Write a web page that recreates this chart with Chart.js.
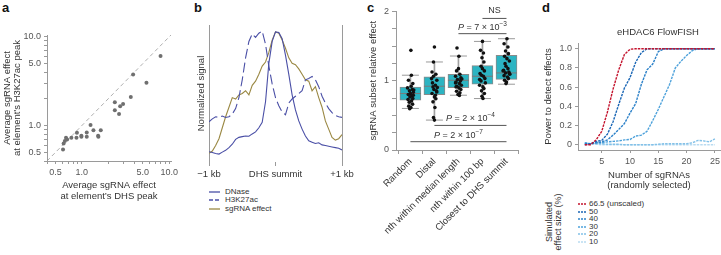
<!DOCTYPE html>
<html><head><meta charset="utf-8">
<script src="https://cdn.jsdelivr.net/npm/chart.js@4.4.1/dist/chart.umd.min.js"></script>
<style>
html,body{margin:0;padding:0;background:#fff;}
#fig{position:relative;width:721px;height:255px;overflow:hidden;font-family:'Liberation Sans',Arial,sans-serif;color:#333;}
canvas{position:absolute;}
.t{position:absolute;white-space:nowrap;line-height:1;}
.lab{position:absolute;font-weight:bold;font-size:13px;color:#111;line-height:1;}
.leg{position:absolute;font-size:8px;line-height:1;white-space:nowrap;color:#333;}
svg{position:absolute;overflow:visible;}
</style></head><body><div id="fig">
<div class="lab" style="left:2px;top:1px">a</div>
<div class="lab" style="left:194px;top:1px">b</div>
<div class="lab" style="left:367px;top:1px">c</div>
<div class="lab" style="left:542px;top:1px">d</div>
</div>
<script>
// ---------- DATA ----------
// panel a
const dhsPeakEffect   = [7.97,3.87,5.5,3.64,2.39,2.97,2.75,2.39,2.67,1.26,1.65,1.36,1.14,0.88,1.14,1.54,1.55,0.99,0.99,0.87,0.76,0.66,0.68,0.64,0.62,0.61];
const h3k27acPeakEffect = [6.1,3.77,3.04,2.1,1.83,1.75,1.65,1.49,1.35,1.02,0.89,0.886,0.84,0.83,0.75,0.77,0.75,0.77,0.75,0.73,0.73,0.73,0.70,0.67,0.63,0.54];
const aAxisRange = [0.4, 10.5];
const aTicks = [0.4,0.5,0.6,0.7,0.8,0.9,1,2,3,4,5,6,7,8,9,10];
const aTickLabels = {0.5:'0.5',1:'1.0',5:'5.0',10:'10.0'};
// panel b
const bPositions = [-1000,-950,-900,-850,-800,-750,-700,-650,-600,-550,-500,-450,-400,-350,-300,-250,-200,-150,-100,-50,0,50,100,150,200,250,300,350,400,450,500,550,600,650,700,750,800,850,900,950,1000];
const dnase   = [0.075,0.07,0.062,0.058,0.072,0.085,0.105,0.13,0.165,0.18,0.185,0.19,0.188,0.205,0.22,0.25,0.29,0.44,0.72,0.88,0.95,0.945,0.9,0.78,0.64,0.49,0.38,0.3,0.24,0.19,0.155,0.145,0.135,0.14,0.125,0.12,0.115,0.11,0.105,0.1,0.088];
const h3k27ac = [0.294,0.315,0.33,0.325,0.335,0.325,0.33,0.35,0.39,0.47,0.6,0.76,0.88,0.935,0.91,0.94,0.955,0.86,0.7,0.57,0.47,0.41,0.365,0.345,0.43,0.46,0.48,0.5,0.52,0.6,0.61,0.625,0.6,0.55,0.48,0.43,0.39,0.36,0.34,0.33,0.326];
const sgEffect = [0.063,0.08,0.12,0.17,0.25,0.33,0.4,0.47,0.46,0.49,0.5,0.52,0.49,0.56,0.59,0.64,0.7,0.73,0.8,0.89,0.95,0.94,0.89,0.83,0.76,0.72,0.71,0.68,0.64,0.6,0.59,0.52,0.55,0.47,0.4,0.3,0.24,0.18,0.16,0.17,0.2];
const bTicks = [-1000,0,1000];
const bTickLabels = ['\u22121 kb','DHS summit','+1 kb'];
const bSeriesNames = ['DNase','H3K27ac','sgRNA effect'];
// panel c
const cCategories = ['Random','Distal','nth within median length','nth within 100 bp','Closest to DHS summit'];
const cQ1 = [0.72,0.80,0.90,0.95,1.02];
const cQ3 = [0.91,1.055,1.094,1.218,1.367];
const cMedian = [0.815,0.921,1.007,1.065,1.113];
const cWhiskerLow = [0.60,0.432,0.791,0.743,0.95];
const cWhiskerHigh = [1.08,1.271,1.357,1.568,1.607];
const cDots = [
  [1.439,1.079,1.007,0.959,0.921,0.897,0.873,0.854,0.835,0.815,0.801,0.782,0.767,0.743,0.729,0.710,0.691,0.662,0.633,0.614,0.595,0.865,0.79],
  [1.487,1.271,1.127,1.094,1.065,1.007,0.969,0.935,0.902,0.873,0.854,0.815,0.767,0.739,0.695,0.614,0.47,0.432,1.031,0.911,0.839,0.791],
  [1.472,1.353,1.175,1.142,1.094,1.065,1.041,1.017,0.998,0.983,0.959,0.935,0.921,0.897,0.873,0.849,0.825,0.801,0.787,1.026,0.969,0.911],
  [1.568,1.439,1.40,1.333,1.271,1.209,1.175,1.142,1.103,1.065,1.031,0.998,0.969,0.935,0.911,0.887,0.854,0.815,0.777,0.743,1.079,1.017],
  [1.607,1.535,1.487,1.429,1.391,1.353,1.319,1.285,1.247,1.209,1.175,1.151,1.127,1.113,1.094,1.074,1.055,1.031,1.007,0.983,0.959,1.142,1.103]
];
const cJitter = [
  [0.02,0.04,-0.08,0.1,0.03,-0.12,0.08,-0.04,0.12,0.0,-0.09,0.06,-0.02,0.1,-0.1,0.05,-0.05,0.09,-0.07,0.02,-0.03,0.14,0.12],
  [0.0,-0.04,-0.1,0.06,-0.04,0.1,-0.08,0.04,0.12,-0.02,0.08,-0.1,0.0,0.06,-0.06,0.02,-0.04,0.0,-0.12,-0.06,0.1,0.04],
  [-0.06,0.02,0.0,-0.08,0.06,-0.12,0.1,-0.04,0.08,-0.1,0.04,0.12,-0.06,0.02,0.1,-0.08,0.06,-0.02,0.04,0.14,-0.12,-0.1],
  [0.0,-0.08,0.04,-0.02,0.06,-0.06,0.0,0.08,-0.1,0.04,0.1,-0.06,0.12,-0.12,0.02,0.06,-0.04,0.08,-0.02,0.02,-0.04,-0.12],
  [0.02,-0.1,0.06,-0.04,0.08,-0.08,0.02,0.12,-0.06,-0.02,0.06,-0.12,0.1,-0.04,0.14,-0.1,0.04,0.08,-0.08,0.0,-0.02,-0.14,0.12]
];
const cComparisons = [
  {from:3, to:4, y:1.90, label:'NS'},
  {from:2, to:4, y:1.68, label:'<i>P</i> = 7 \u00d7 10<sup>\u22123</sup>'},
  {from:1, to:4, y:0.355, label:'<i>P</i> = 2 \u00d7 10<sup>\u22124</sup>'},
  {from:0, to:4, y:0.12, label:'<i>P</i> = 2 \u00d7 10<sup>\u22127</sup>'}
];
// panel d
const dNumSgRNAs = [2,3,4,5,6,7,8,9,10,11,12,13,14,15,16,17,18,19,20,21,22,23,24,25];
const dEffectSizes = ['66.5 (unscaled)','50','40','30','20','10'];
const dPower = [
  [0,0,0.05,0.14,0.34,0.58,0.78,0.94,0.995,1,1,1,1,1,1,1,1,1,1,1,1,1,1,1],
  [0,0.01,0.035,0.045,0.11,0.24,0.42,0.59,0.7,0.86,0.96,1,1,1,1,1,1,1,1,1,1,1,1,1],
  [0.01,0.01,0.02,0.03,0.05,0.1,0.16,0.22,0.33,0.43,0.63,0.78,0.84,0.97,1,1,1,1,1,1,1,1,1,1],
  [0.02,0.01,0.02,0.02,0.03,0.035,0.04,0.05,0.055,0.09,0.1,0.14,0.25,0.37,0.5,0.63,0.8,0.87,0.93,0.98,1,1,1,1],
  [0.02,0.01,0.01,0.01,0.005,0.005,0.005,0,0,0,0,0,0,0.005,0.01,0.01,0.01,0.01,0.01,0.02,0.045,0.04,0.03,0.06],
  [0.01,0.01,0.005,0,0,0,0,0,0,0,0,0,0,0,0,0,0,0,0,0,0,0,0,0]
];
const dXTicks = [5,10,15,20,25];
const dYTicks = [0,0.2,0.4,0.6,0.8,1.0];

// ---------- STYLE ----------
Chart.defaults.font.family = "'Liberation Sans', Arial, sans-serif";
Chart.defaults.font.size = 9;
Chart.defaults.color = '#555';
const AX = '#9a9a9a';
const fig = document.getElementById('fig');

function addCanvas(box){
  const c = document.createElement('canvas');
  c.width = box.w; c.height = box.h;
  Object.assign(c.style,{left:box.x+'px',top:box.y+'px',width:box.w+'px',height:box.h+'px'});
  fig.appendChild(c); return c;
}
function baseOpts(box, area){
  return {
    responsive:false, animation:false, devicePixelRatio:1,
    layout:{padding:{left:0,top:area.top-box.y,right:box.x+box.w-area.right,bottom:0}},
    plugins:{legend:{display:false},tooltip:{enabled:false}}
  };
}
const fitX = (box,area)=> s => { s.height = box.y+box.h-area.bottom; s.paddingLeft=0; s.paddingRight=0; };
const fitY = (box,area)=> s => { s.width = area.left-box.x; s.paddingTop=0; s.paddingBottom=0; };
function text(html, x, y, css){
  const d = document.createElement('div'); d.className='t'; d.innerHTML = html;
  d.style.left = x+'px'; d.style.top = y+'px';
  Object.assign(d.style, css||{});
  fig.appendChild(d); return d;
}

// ---------- PANEL A ----------
(function(){
  const box = {x:0,y:20,w:180,h:182}, area = {left:47,top:35,right:171,bottom:161};
  const o = baseOpts(box, area);
  const logAxis = (pos, titleLines, pad) => ({
    type:'logarithmic', position:pos, min:aAxisRange[0], max:aAxisRange[1],
    afterBuildTicks: s => { s.ticks = aTicks.map(v=>({value:v})); },
    afterFit: pos==='bottom' ? fitX(box,area) : fitY(box,area),
    ticks:{autoSkip:false, maxRotation:0, padding:3, color:'#555', font:{size:9},
      callback: v => aTickLabels[v] || ''},
    grid:{drawOnChartArea:false, drawTicks:true, tickLength:3, color:AX},
    border:{color:AX},
    title:{display:true, text:titleLines, color:'#333', font:{size:9.5, lineHeight:pos==='bottom'?'11px':'10px'}, padding:pad}
  });
  o.scales = {
    x: logAxis('bottom', ['Average sgRNA effect','at element\u2019s DHS peak'], {top:0,bottom:0}),
    y: logAxis('left', ['Average sgRNA effect','at element\u2019s H3K27ac peak'], {top:2,bottom:0})
  };
  new Chart(addCanvas(box), {
    type:'scatter',
    data:{datasets:[
      {data: dhsPeakEffect.map((v,i)=>({x:v,y:h3k27acPeakEffect[i]})), pointRadius:2, pointBackgroundColor:'#6f6f6f', pointBorderWidth:0, order:0},
      {type:'line', data: aAxisRange.map(v=>({x:v,y:v})), borderColor:'#9a9a9a', borderWidth:0.8, borderDash:[4,3], pointRadius:0, order:1}
    ]},
    options:o
  });
})();

// ---------- PANEL B ----------
(function(){
  const box = {x:180,y:0,w:175,h:185}, area = {left:209,top:25,right:342,bottom:162};
  const o = baseOpts(box, area);
  o.scales = {
    x:{type:'linear', min:-1000, max:1000,
      afterBuildTicks: s => { s.ticks = bTicks.map(v=>({value:v})); },
      afterFit: fitX(box,area),
      ticks:{autoSkip:false, maxRotation:0, padding:3, color:'#333', font:{size:9.5},
        callback: v => bTickLabels[bTicks.indexOf(v)]},
      grid:{drawOnChartArea:true, drawTicks:true, tickLength:4,
        color: c => (c.tick && c.tick.value !== 0) ? AX : 'rgba(0,0,0,0)', tickColor:AX},
      border:{display:false}},
    y:{type:'linear', min:0, max:1, afterFit: fitY(box,area),
      ticks:{display:false}, grid:{display:false}, border:{display:false},
      title:{display:true, text:'Normalized signal', color:'#333', font:{size:9.5, lineHeight:'11px'}, padding:{top:15.5,bottom:0}}}
  };
  const mkSeries = (vals, color, dash) => ({data: bPositions.map((p,i)=>({x:p,y:vals[i]})), borderColor:color, borderWidth:1.1, borderDash:dash, pointRadius:0, tension:0});
  new Chart(addCanvas(box), {
    type:'line',
    data:{datasets:[
      mkSeries(h3k27ac,'#4a4fa6',[10,4]),
      mkSeries(dnase,'#4a4fa6',[]),
      mkSeries(sgEffect,'#9a8843',[])
    ]},
    options:o
  });
  // legend
  const styles = [{c:'#4a4fa6',d:''},{c:'#4a4fa6',d:'4 2'},{c:'#9a8843',d:''}];
  const ys = [192,200.3,208.6];
  bSeriesNames.forEach((n,i)=>{
    const s = document.createElementNS('http://www.w3.org/2000/svg','svg');
    s.setAttribute('width','12'); s.setAttribute('height','4');
    s.style.left='209px'; s.style.top=(ys[i]-2)+'px';
    s.innerHTML = `<line x1="0" y1="2" x2="11" y2="2" stroke="${styles[i].c}" stroke-width="1.3" stroke-dasharray="${styles[i].d}"/>`;
    fig.appendChild(s);
    const d = document.createElement('div'); d.className='leg'; d.textContent=n;
    d.style.left='225px'; d.style.top=(ys[i]-4)+'px'; fig.appendChild(d);
  });
})();

// ---------- PANEL C ----------
(function(){
  const box = {x:360,y:0,w:170,h:255}, area = {left:396,top:11,right:528,bottom:150};
  const o = baseOpts(box, area);
  o.scales = {
    x:{type:'linear', min:-0.6, max:4.5, offset:false,
      afterBuildTicks: s => { s.ticks = cCategories.map((c,i)=>({value:i})); },
      afterFit: fitX(box,area),
      ticks:{autoSkip:false, minRotation:45, maxRotation:45, padding:2, color:'#333', font:{size:9.5},
        callback: v => cCategories[v]},
      grid:{drawOnChartArea:false, drawTicks:true, tickLength:4, color:AX},
      border:{color:AX}},
    y:{type:'linear', min:0, max:2,
      afterBuildTicks: s => { const t=[]; for(let v=0; v<=2.0001; v+=0.25) t.push({value:+v.toFixed(2)}); s.ticks=t; },
      afterFit: fitY(box,area),
      ticks:{autoSkip:false, padding:3, color:'#555', font:{size:9}, callback: v => Number.isInteger(v) ? String(v) : ''},
      grid:{drawOnChartArea:false, drawTicks:true, tickLength:4, color:AX},
      border:{color:AX},
      title:{display:true, text:'sgRNA subset relative effect', color:'#333', font:{size:9.5, lineHeight:'11px'}, padding:{top:7.5,bottom:0}}}
  };
  const idx = cCategories.map((c,i)=>i);
  const datasets = [];
  datasets.push({type:'scatter', data: cDots.flatMap((arr,i)=>arr.map((v,j)=>({x:i+cJitter[i][j], y:v}))),
    pointRadius:1.8, pointBackgroundColor:'#111', pointBorderWidth:0, order:0});
  datasets.push({type:'scatter', data: idx.map(i=>({x:i,y:cMedian[i]})), pointStyle:'line', pointRadius:10.5, pointBorderColor:'#7a7a7a', pointBorderWidth:1, order:1});
  datasets.push({type:'scatter', data: idx.flatMap(i=>[{x:i,y:cWhiskerLow[i]},{x:i,y:cWhiskerHigh[i]}]), pointStyle:'line', pointRadius:8.5, pointBorderColor:'#9a9a9a', pointBorderWidth:1, order:2});
  datasets.push({type:'bar', grouped:false, data: idx.map(i=>({x:i,y:[cQ1[i],cQ3[i]]})), barThickness:21, backgroundColor:'#2cb4c2', borderColor:'#8a8a8a', borderWidth:1, borderSkipped:false, order:3});
  datasets.push({type:'bar', grouped:false, data: idx.map(i=>({x:i,y:[cWhiskerLow[i],cWhiskerHigh[i]]})), barThickness:1, backgroundColor:'#a0a0a0', borderWidth:0, order:4});
  cComparisons.forEach(cp => datasets.push({type:'line', data:[{x:cp.from,y:cp.y},{x:cp.to,y:cp.y}], borderColor:'#555', borderWidth:1, pointRadius:0, order:5}));
  const ch = new Chart(addCanvas(box), {type:'scatter', data:{datasets}, options:o});
  cComparisons.forEach(cp => {
    const xm = (ch.scales.x.getPixelForValue(cp.from) + ch.scales.x.getPixelForValue(cp.to))/2 + box.x;
    const yp = ch.scales.y.getPixelForValue(cp.y) + box.y;
    const d = text(cp.label, xm, yp - 8, {fontSize:'9px', transform:'translate(-50%,-50%)', color:'#333'});
    d.querySelectorAll('sup').forEach(s=>{s.style.fontSize='6.5px'; s.style.verticalAlign='4px';});
  });
})();

// ---------- PANEL D ----------
(function(){
  const box = {x:540,y:20,w:181,h:170}, area = {left:578,top:43,right:720,bottom:150};
  const o = baseOpts(box, area);
  o.scales = {
    x:{type:'linear', min:0.8, max:25.9,
      afterBuildTicks: s => { s.ticks = dXTicks.map(v=>({value:v})); },
      afterFit: fitX(box,area),
      ticks:{autoSkip:false, maxRotation:0, padding:3, color:'#555', font:{size:9}},
      grid:{drawOnChartArea:false, drawTicks:true, tickLength:3, color:AX},
      border:{color:AX},
      title:{display:true, text:['Number of sgRNAs','(randomly selected)'], color:'#333', font:{size:9.5, lineHeight:'10px'}, padding:{top:0,bottom:0}}},
    y:{type:'linear', min:-0.055, max:1.06,
      afterBuildTicks: s => { s.ticks = dYTicks.map(v=>({value:v})); },
      afterFit: fitY(box,area),
      ticks:{autoSkip:false, padding:3, color:'#555', font:{size:9}, callback: v => v===0 ? '0' : v.toFixed(1)},
      grid:{drawOnChartArea:false, drawTicks:true, tickLength:3, color:AX},
      border:{color:AX},
      title:{display:true, text:'Power to detect effects', color:'#333', font:{size:9.5, lineHeight:'11px'}, padding:{top:2.5,bottom:0}}}
  };
  const colors = ['#c4142e','#1a66b5','#2d82c9','#4ea2db','#83c1e8','#b9dbf1'];
  const datasets = dPower.map((vals,k)=>({
    data: dNumSgRNAs.map((n,i)=>({x:n,y:vals[i]})), borderColor:colors[k], borderWidth:1.4, borderDash:[2.5,1],
    pointRadius:0, tension:0, order:k
  }));
  new Chart(addCanvas(box), {type:'line', data:{datasets}, options:o});
  text('eHDAC6 FlowFISH', 658, 32, {fontSize:'9.5px', transform:'translate(-50%,-50%)', color:'#333'});
  // legend
  const ys = [204,211.5,219,226.5,234,241.5];
  dEffectSizes.forEach((n,i)=>{
    const s = document.createElementNS('http://www.w3.org/2000/svg','svg');
    s.setAttribute('width','10'); s.setAttribute('height','4');
    s.style.left='578px'; s.style.top=(ys[i]-2)+'px';
    s.innerHTML = `<line x1="0" y1="2" x2="8" y2="2" stroke="${colors[i]}" stroke-width="1.4" stroke-dasharray="2 1"/>`;
    fig.appendChild(s);
    const d = document.createElement('div'); d.className='leg'; d.textContent=n;
    d.style.left='589px'; d.style.top=(ys[i]-4)+'px'; fig.appendChild(d);
  });
  text('Simulated<br>effect size (%)', 554, 222, {fontSize:'9px', lineHeight:'9px', textAlign:'center', transform:'translate(-50%,-50%) rotate(-90deg)', color:'#333'});
})();
</script>
</body></html>
